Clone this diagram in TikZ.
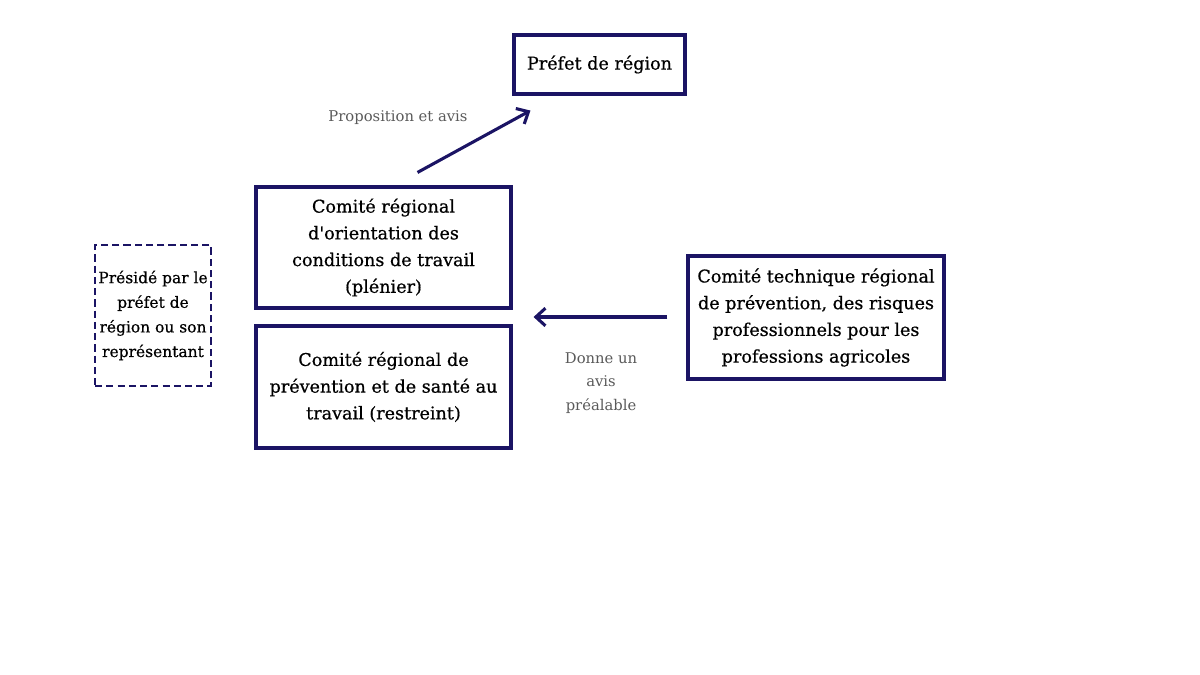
\documentclass[tikz,border=0pt]{standalone}
\usepackage{fontspec}
\setmainfont[FakeBold=0.6]{DejaVu Serif}
\newfontfamily\labelfont{DejaVu Serif}
\usetikzlibrary{arrows.meta, positioning, calc}
\definecolor{cnavy}{HTML}{1B1464}
\definecolor{cgrey}{HTML}{5A5A5A}
\tikzset{
  every picture/.style={line width=2.2pt},
  box/.style={draw=cnavy, fill=white, align=center, inner sep=0pt, minimum width=#1,
    font=\fontsize{12.5}{19}\selectfont},
  arrow/.style={-{Straight Barb[length=2.4mm, width=4.4mm]}, draw=cnavy, line width=2.2pt},
  note/.style={font=\labelfont\fontsize{10.5}{16.5}\selectfont, text=cgrey, align=center},
}

\begin{document}
\begin{tikzpicture}[x=0.025cm, y=-0.025cm]
  \useasboundingbox (0,0) rectangle (1200,675);
  % boxes
  \node[box=171*0.025cm, minimum height=59*0.025cm] (prefet) at (599.5,64.5) {Préfet de région};
  \node[box=255*0.025cm, minimum height=121*0.025cm] (orient) at (383.5,247.5)
    {Comité régional\\d\textquotesingle orientation des\\conditions de travail\\(plénier)};
  \node[box=255*0.025cm, minimum height=122*0.025cm] (prev) at (383.5,387)
    {Comité régional de\\prévention et de santé au\\travail (restreint)};
  \node[box=116*0.025cm, minimum height=141*0.025cm, dashed, dash pattern=on 5pt off 3pt, line width=1.9pt,
    font=\fontsize{11}{17.5}\selectfont] (preside) at (153,315.5)
    {Présidé par le\\préfet de\\région ou son\\représentant};
  \node[box=256*0.025cm, minimum height=123*0.025cm] (techn) at (816,317.5)
    {Comité technique régional\\de prévention, des risques\\professionnels pour les\\professions agricoles};
  % connectors
  \coordinate (between) at ($(orient.south east)!0.5!(prev.north east)$);
  \draw[arrow] ([xshift=34*0.025cm, yshift=13*0.025cm]orient.north) -- ([xshift=18*0.025cm, yshift=-15*0.025cm]prefet.south west);
  \draw[arrow, shorten >=21*0.025cm, shorten <=19*0.025cm] (techn.west |- between) -- (between);
  % labels
  \node[note] (propo) at (398,118) {Proposition et avis};
  \node[note] (avis) at (601,383) {Donne un\\avis\\préalable};
\end{tikzpicture}
\end{document}
